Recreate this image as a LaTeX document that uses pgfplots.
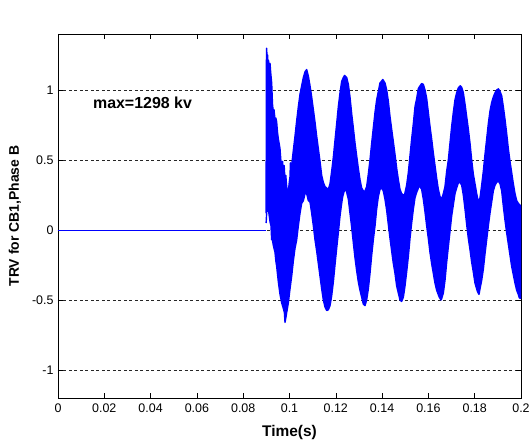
\documentclass[border=0pt]{standalone}
\usepackage{pgfplots}
\pgfplotsset{compat=1.18}
\usepackage{fontspec}
\setmainfont{Liberation Sans}
\begin{document}
\begin{tikzpicture}
\useasboundingbox (-58bp,-43bp) rectangle (473bp,398bp);
\begin{axis}[
  at={(0,0)}, anchor=south west,
  width=463bp, height=364bp, scale only axis,
  xmin=0, xmax=0.2, ymin=-1.2, ymax=1.4,
  xtick={0,0.02,0.04,0.06,0.08,0.1,0.12,0.14,0.16,0.18,0.2},
  xticklabels={0,0.02,0.04,0.06,0.08,0.1,0.12,0.14,0.16,0.18,0.2},
  ytick={-1,-0.5,0,0.5,1},
  yticklabels={-1,-0.5,0,0.5,1},
  /pgf/number format/assume math mode=true,
  tick align=inside,
  major tick length=5bp,
  ymajorgrids,
  grid style={black!85, line width=0.5bp, dash pattern=on 3bp off 2.5bp},
  axis line style={black, line width=0.6bp},
  tick style={black, line width=0.6bp},
  ticklabel style={font=\fontsize{12.5}{14}\selectfont},
  xticklabel style={yshift=-2bp},
  yticklabel style={xshift=-1bp},
  xlabel={Time(s)},
  ylabel={TRV for CB1,Phase B},
  label style={font=\bfseries\fontsize{14}{16}\selectfont},
  xlabel style={font=\bfseries\fontsize{15.5}{17}\selectfont, at={(axis description cs:0.5,-0.094)}, anchor=center},
  ylabel style={at={(axis description cs:-0.093,0.5)}, anchor=center, rotate=0},
  clip=true,
]
\addplot[blue, line width=0.8bp] coordinates {(0,0) (0.0899,0)};
\addplot[draw=blue, fill=blue, line width=1.4bp, line join=round] coordinates {
(0.08990,0.12) (0.09000,1.18) (0.09014,1.298) (0.09035,1.19) (0.09055,1.25)
(0.09075,1.17) (0.09095,1.21) (0.09120,1.14) (0.09158,1.19) (0.09190,1.12)
(0.09230,1.05) (0.09265,0.90) (0.09302,0.84) (0.09330,0.86) (0.09374,0.79)
(0.09410,0.80) (0.09446,0.77) (0.09480,0.70) (0.09518,0.65) (0.09550,0.62)
(0.09590,0.58) (0.09625,0.50) (0.09662,0.47) (0.09700,0.49) (0.09734,0.42)
(0.09770,0.46) (0.09806,0.35) (0.09840,0.39) (0.09878,0.31) (0.09910,0.28)
(0.09950,0.27) (0.09990,0.34) (0.10022,0.38) (0.10040,0.48) (0.10060,0.41)
(0.10094,0.46) (0.10160,0.56) (0.10238,0.67) (0.10310,0.78) (0.10382,0.88)
(0.10454,0.97) (0.10526,1.03) (0.10600,1.09) (0.10670,1.13) (0.10742,1.146)
(0.10814,1.10) (0.10886,1.03) (0.10958,0.95) (0.11030,0.86) (0.11102,0.77)
(0.11174,0.67) (0.11246,0.58) (0.11318,0.49) (0.11390,0.39) (0.11462,0.34)
(0.11534,0.31) (0.11606,0.30) (0.11677,0.29) (0.11750,0.33) (0.11822,0.42)
(0.11894,0.52) (0.11965,0.64) (0.12038,0.76) (0.12109,0.88) (0.12182,0.98)
(0.12253,1.06) (0.12326,1.09) (0.12380,1.104) (0.12469,1.09) (0.12542,1.04)
(0.12613,0.95) (0.12686,0.83) (0.12757,0.73) (0.12830,0.62) (0.12901,0.53)
(0.12973,0.44) (0.13045,0.36) (0.13117,0.30) (0.13190,0.28) (0.13240,0.27)
(0.13333,0.31) (0.13406,0.40) (0.13477,0.50) (0.13550,0.62) (0.13621,0.73)
(0.13694,0.84) (0.13765,0.93) (0.13838,0.99) (0.13909,1.05) (0.13982,1.065)
(0.14030,1.075) (0.14125,1.05) (0.14198,1.00) (0.14269,0.92) (0.14342,0.81)
(0.14413,0.72) (0.14486,0.63) (0.14557,0.54) (0.14630,0.44) (0.14701,0.36)
(0.14774,0.29) (0.14845,0.26) (0.14960,0.245) (0.15060,0.32) (0.15133,0.41)
(0.15205,0.53) (0.15277,0.65) (0.15350,0.76) (0.15421,0.88) (0.15494,0.94)
(0.15565,1.01) (0.15640,1.03) (0.15709,1.046) (0.15781,1.04) (0.15853,1.00)
(0.15925,0.94) (0.15997,0.84) (0.16069,0.74) (0.16141,0.65) (0.16213,0.55)
(0.16285,0.46) (0.16357,0.37) (0.16429,0.29) (0.16500,0.24) (0.16573,0.22)
(0.16645,0.26) (0.16717,0.31) (0.16790,0.42) (0.16861,0.50) (0.16933,0.62)
(0.17005,0.74) (0.17077,0.84) (0.17149,0.93) (0.17220,0.98) (0.17293,1.015)
(0.17379,1.03) (0.17437,1.02) (0.17509,0.98) (0.17581,0.90) (0.17653,0.81)
(0.17725,0.72) (0.17797,0.62) (0.17869,0.50) (0.17940,0.40) (0.18013,0.33)
(0.18085,0.26) (0.18157,0.20) (0.18230,0.23) (0.18301,0.32) (0.18373,0.42)
(0.18445,0.54) (0.18517,0.65) (0.18589,0.76) (0.18661,0.85) (0.18733,0.91)
(0.18805,0.95) (0.18877,0.98) (0.18950,1.00) (0.19021,1.008) (0.19093,0.99)
(0.19165,0.96) (0.19237,0.88) (0.19309,0.79) (0.19381,0.69) (0.19453,0.58)
(0.19525,0.49) (0.19597,0.41) (0.19669,0.33) (0.19741,0.26) (0.19813,0.21)
(0.19885,0.19) (0.20000,0.17)
(0.20000,-0.49) (0.19928,-0.485) (0.19885,-0.46) (0.19813,-0.43) (0.19741,-0.38)
(0.19669,-0.32) (0.19597,-0.26) (0.19525,-0.18) (0.19453,-0.10) (0.19381,-0.02)
(0.19309,0.07) (0.19237,0.17) (0.19165,0.28) (0.19093,0.33) (0.19021,0.349)
(0.18950,0.34) (0.18877,0.32) (0.18805,0.28) (0.18733,0.20) (0.18661,0.12)
(0.18589,0.03) (0.18517,-0.07) (0.18445,-0.17) (0.18373,-0.28) (0.18301,-0.36)
(0.18230,-0.42) (0.18186,-0.46) (0.18120,-0.44) (0.18013,-0.38) (0.17940,-0.30)
(0.17869,-0.23) (0.17797,-0.14) (0.17725,-0.06) (0.17653,0.04) (0.17581,0.15)
(0.17509,0.25) (0.17437,0.32) (0.17365,0.34) (0.17293,0.337) (0.17220,0.30)
(0.17149,0.26) (0.17077,0.18) (0.17005,0.10) (0.16933,-0.01) (0.16861,-0.12)
(0.16790,-0.23) (0.16717,-0.36) (0.16645,-0.45) (0.16573,-0.49) (0.16544,-0.50)
(0.16470,-0.48) (0.16357,-0.43) (0.16285,-0.38) (0.16213,-0.31) (0.16141,-0.24)
(0.16069,-0.16) (0.15997,-0.06) (0.15925,0.03) (0.15853,0.13) (0.15781,0.22)
(0.15709,0.29) (0.15640,0.31) (0.15594,0.31) (0.15494,0.27) (0.15421,0.23)
(0.15350,0.15) (0.15277,0.05) (0.15205,-0.06) (0.15133,-0.19) (0.15060,-0.30)
(0.14989,-0.40) (0.14918,-0.48) (0.14845,-0.51) (0.14774,-0.50) (0.14701,-0.45)
(0.14630,-0.40) (0.14557,-0.31) (0.14486,-0.24) (0.14413,-0.15) (0.14342,-0.06)
(0.14269,0.04) (0.14198,0.14) (0.14125,0.22) (0.14050,0.28) (0.13982,0.30)
(0.13909,0.29) (0.13838,0.24) (0.13765,0.15) (0.13694,0.03) (0.13621,-0.07)
(0.13550,-0.18) (0.13477,-0.31) (0.13406,-0.42) (0.13333,-0.50) (0.13262,-0.54)
(0.13190,-0.53) (0.13117,-0.48) (0.13045,-0.43) (0.12973,-0.37) (0.12901,-0.29)
(0.12830,-0.20) (0.12757,-0.09) (0.12686,0.02) (0.12613,0.12) (0.12542,0.22)
(0.12469,0.27) (0.12420,0.29) (0.12368,0.28) (0.12300,0.24) (0.12253,0.19)
(0.12182,0.10) (0.12109,-0.02) (0.12038,-0.13) (0.11965,-0.25) (0.11894,-0.37)
(0.11822,-0.47) (0.11750,-0.54) (0.11677,-0.57) (0.11606,-0.575) (0.11534,-0.55)
(0.11462,-0.50) (0.11390,-0.42) (0.11318,-0.33) (0.11246,-0.24) (0.11174,-0.15)
(0.11102,-0.07) (0.11030,0.03) (0.10958,0.12) (0.10886,0.20) (0.10814,0.21)
(0.10742,0.26) (0.10670,0.26) (0.10600,0.21) (0.10526,0.19) (0.10454,0.12)
(0.10382,0.03) (0.10310,-0.07) (0.10238,-0.13) (0.10166,-0.22) (0.10094,-0.33)
(0.10022,-0.42) (0.09950,-0.52) (0.09900,-0.57) (0.09878,-0.59) (0.09849,-0.62)
(0.09806,-0.66) (0.09780,-0.59) (0.09734,-0.56) (0.09662,-0.52) (0.09590,-0.46)
(0.09518,-0.37) (0.09446,-0.26) (0.09410,-0.22) (0.09374,-0.16) (0.09302,-0.11)
(0.09250,-0.06) (0.09230,-0.07) (0.09200,0.03) (0.09158,0.06) (0.09086,0.15)
(0.09040,0.17) (0.09014,0.12) (0.08990,0.05)
};
\node[font=\bfseries\fontsize{16}{18}\selectfont, anchor=center] at (axis cs:0.0365,0.911) {max=1298 kv};
\node[font=\fontsize{12.5}{14}\selectfont, anchor=base west, inner sep=0pt] at ([yshift=7bp]rel axis cs:0,1) {x 10\textsuperscript{6}};
\end{axis}
\end{tikzpicture}
\end{document}
